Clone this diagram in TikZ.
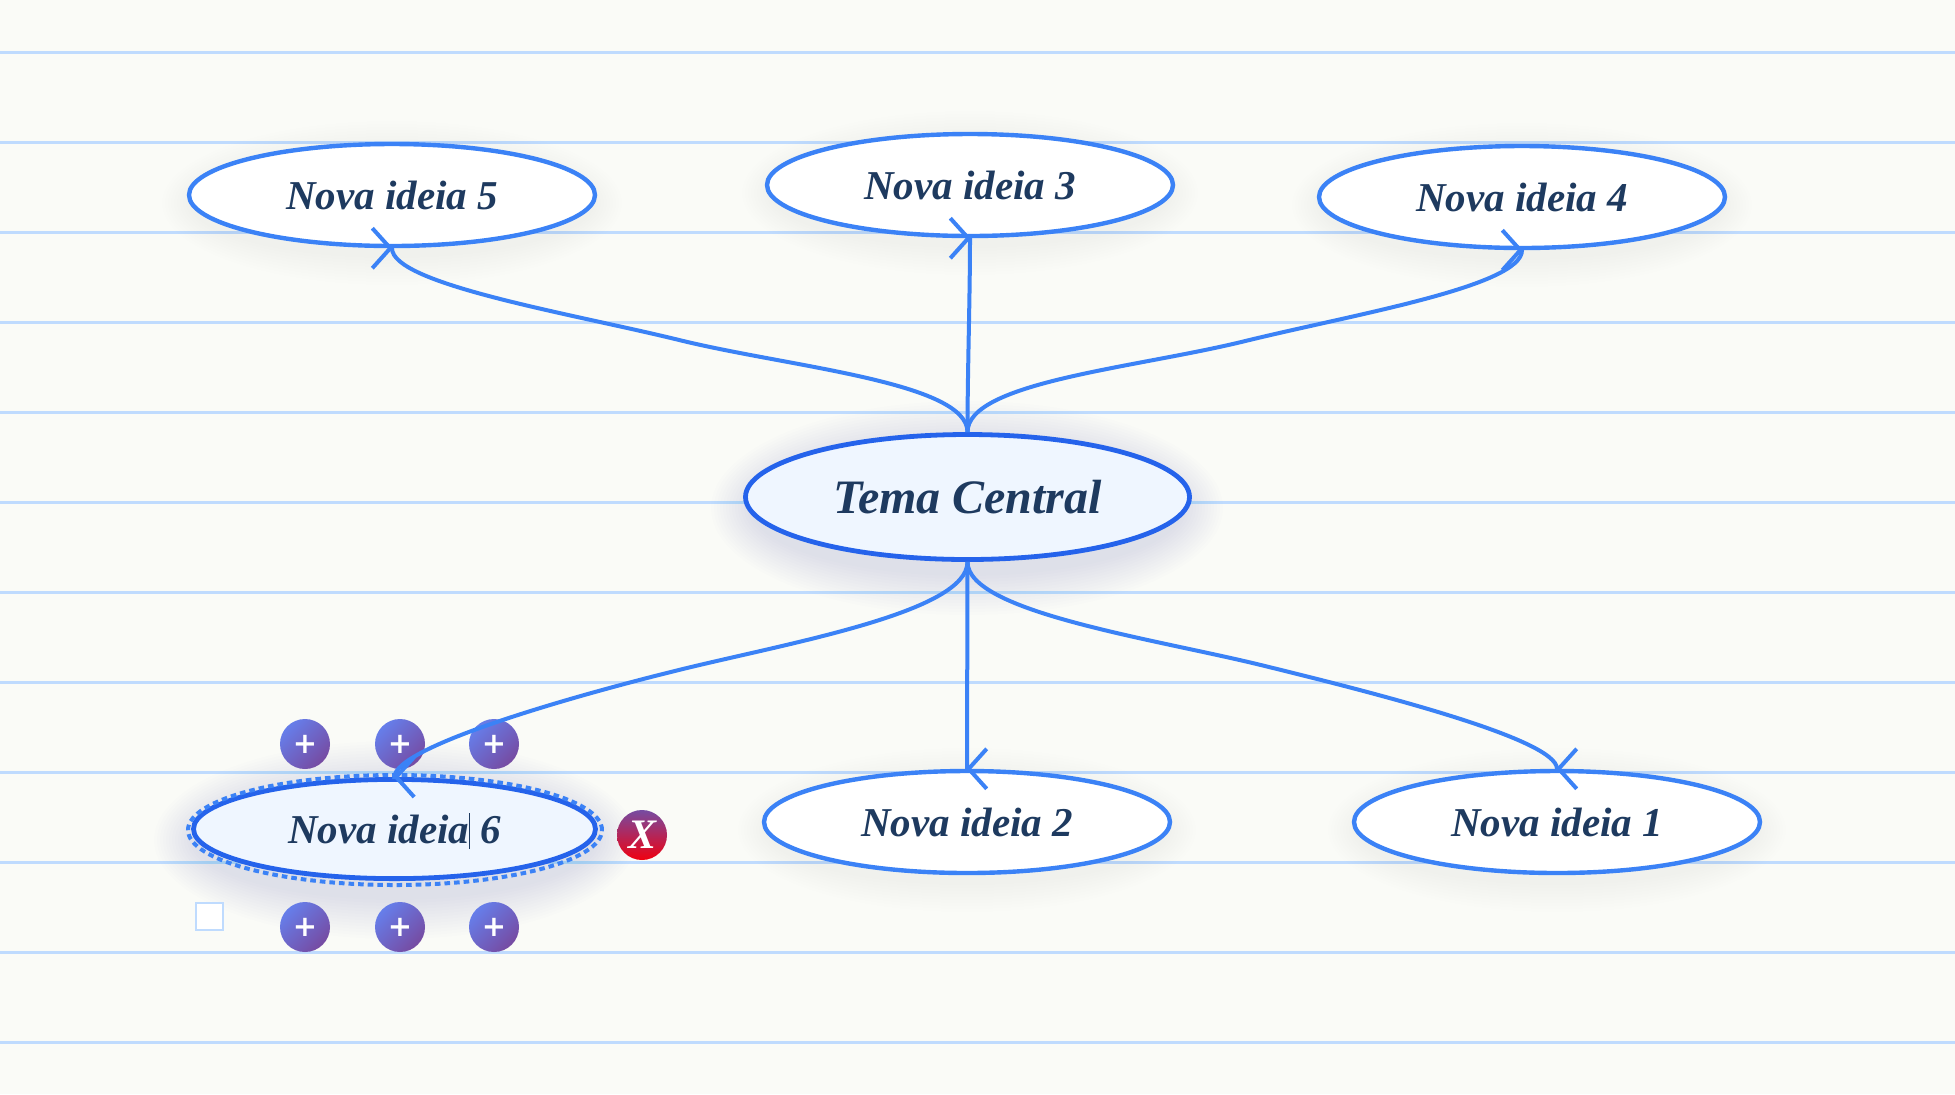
\documentclass[tikz,border=0pt]{standalone}
\usepackage{fontspec}
\setmainfont{Liberation Serif}
\newfontfamily\btnfont{DejaVu Sans}
\usetikzlibrary{arrows.meta,calc,shapes.geometric}
\definecolor{PaperBg}{HTML}{FAFBF7}
\definecolor{RuleBlue}{HTML}{BFDBFE}
\definecolor{InkDark}{HTML}{1E3A5F}
\definecolor{MapBlue}{HTML}{3B82F6}
\definecolor{MapDeep}{HTML}{2563EB}
\definecolor{MapSoft}{HTML}{EFF6FF}
\definecolor{ShadowBlue}{HTML}{2563C0}
\definecolor{BtnA}{HTML}{667EEA}
\definecolor{BtnB}{HTML}{764BA2}
\definecolor{DelB}{HTML}{F00010}
\tikzset{
  x=0.5pt, y=-0.5pt,
  ruleline/.style={draw=RuleBlue, line width=1.4pt},
  ideabox/.style={ellipse, draw=MapBlue, fill=white, line width=2.2pt, inner sep=0pt,
                  minimum width=203pt, minimum height=51pt,
                  font=\fontsize{20.5}{24}\selectfont\bfseries\itshape\color{InkDark}},
  selbox/.style={ideabox, draw=MapDeep, fill=MapSoft, line width=2.4pt,
                 minimum width=201pt, minimum height=49.6pt},
  centerbox/.style={selbox, minimum width=222pt, minimum height=62.5pt,
                    font=\fontsize{24}{28}\selectfont\bfseries\itshape\color{InkDark}},
  selring/.style={ellipse, draw=MapBlue, line width=2pt, inner sep=0pt,
                  dash pattern=on 2.8pt off 2pt, minimum width=207pt, minimum height=55pt},
  addbtn/.style={circle, inner sep=0pt, minimum size=25pt, top color=BtnA, bottom color=BtnB,
                 shading angle=45, font=\btnfont\bfseries\fontsize{14.5}{14.5}\selectfont\color{white}},
  delbtn/.style={addbtn, top color=BtnB, bottom color=DelB,
                 font=\fontsize{21}{21}\selectfont\bfseries\itshape\color{white}},
  checkbox/.style={draw=RuleBlue, fill=white, line width=1.4pt, inner sep=0pt, minimum size=13.5pt},
  link/.style={draw=MapBlue, line width=2pt,
               -{Straight Barb[length=9pt,width=20pt]}},
}
\begin{document}
\begin{tikzpicture}
  \useasboundingbox (0,0) rectangle (1955,1094);
  \fill[PaperBg] (0,0) rectangle (1955,1094);

  % ---- Ruled paper ----
  \foreach \i in {0,...,11}
    \draw[ruleline] (0,52.3+90*\i) -- (1955,52.3+90*\i);

  % ---- Soft shadows under the ellipses ----
  \foreach \cx/\cy/\rx/\ry in {392/203/200/52, 970/193/198/52, 1522/205/200/52,
                               967/830/199/52, 1557/830/199/52}
    \foreach \g in {1,...,10}
      \fill[ShadowBlue, opacity=0.004] (\cx,\cy) ellipse ({\rx+3*\g} and {\ry+3*\g});
  \foreach \cx/\cy/\rx/\ry in {967/508/214/65, 395/840/199/57}
    \foreach \g in {1,...,14}
      \fill[ShadowBlue, opacity=0.006] (\cx,\cy) ellipse ({\rx+3*\g} and {\ry+3*\g});

  % ---- Buttons around the selected idea ----
  \node[addbtn] (addtl) at (305,744) {+};
  \node[addbtn] (addtm) at (400,744) {+};
  \node[addbtn] (addtr) at (494,744) {+};
  \node[addbtn] (addbl) at (305,927) {+};
  \node[addbtn] (addbm) at (400,927) {+};
  \node[addbtn] (addbr) at (494,927) {+};
  \node[delbtn] (del)   at (642,835) {X};
  \node[checkbox] (check) at (209.5,916.5) {};

  % ---- Ideas ----
  \node[centerbox] (tema) at (967.5,497) {Tema Central};
  \node[ideabox] (idea5) at (392,195)  {Nova ideia 5};
  \node[ideabox] (idea3) at (970,185)  {Nova ideia 3};
  \node[ideabox] (idea4) at (1522,197) {Nova ideia 4};
  \node[ideabox] (idea2) at (967,822)  {Nova ideia 2};
  \node[ideabox] (idea1) at (1557,822) {Nova ideia 1};
  \node[selbox]  (idea6) at (394.5,829) {Nova ideia\smash{\rule[-3pt]{0.5pt}{18pt}} 6};
  \node[selring] (ring)  at (395,830) {};

  % ---- Links ----
  \draw[link] (tema.north) .. controls +(0,-50) and +(110,27) .. ($(tema.north)!.5!(idea5.south)$)
              .. controls +(-110,-27) and +(0,36) .. (idea5.south) -- +(1,0);
  \draw[link] (tema.north) .. controls +(0,-60) and +(0,60) .. (idea3.south) -- +(1,0);
  \draw[link] (tema.north) .. controls +(0,-50) and +(-110,27) .. ($(tema.north)!.5!(idea4.south)$)
              .. controls +(110,-27) and +(0,36) .. (idea4.south) -- +(1,0);
  \draw[link] (tema.south) .. controls +(0,50) and +(110,-27) .. ($(tema.south)!.5!(idea6.north)$)
              .. controls +(-110,27) and +(0,-30) .. (idea6.north) -- +(-1,0);
  \draw[link] (tema.south) -- (idea2.north) -- +(-1,0);
  \draw[link] (tema.south) .. controls +(0,50) and +(-110,-27) .. ($(tema.south)!.5!(idea1.north)$)
              .. controls +(110,27) and +(0,-30) .. (idea1.north) -- +(-1,0);
\end{tikzpicture}
\end{document}
